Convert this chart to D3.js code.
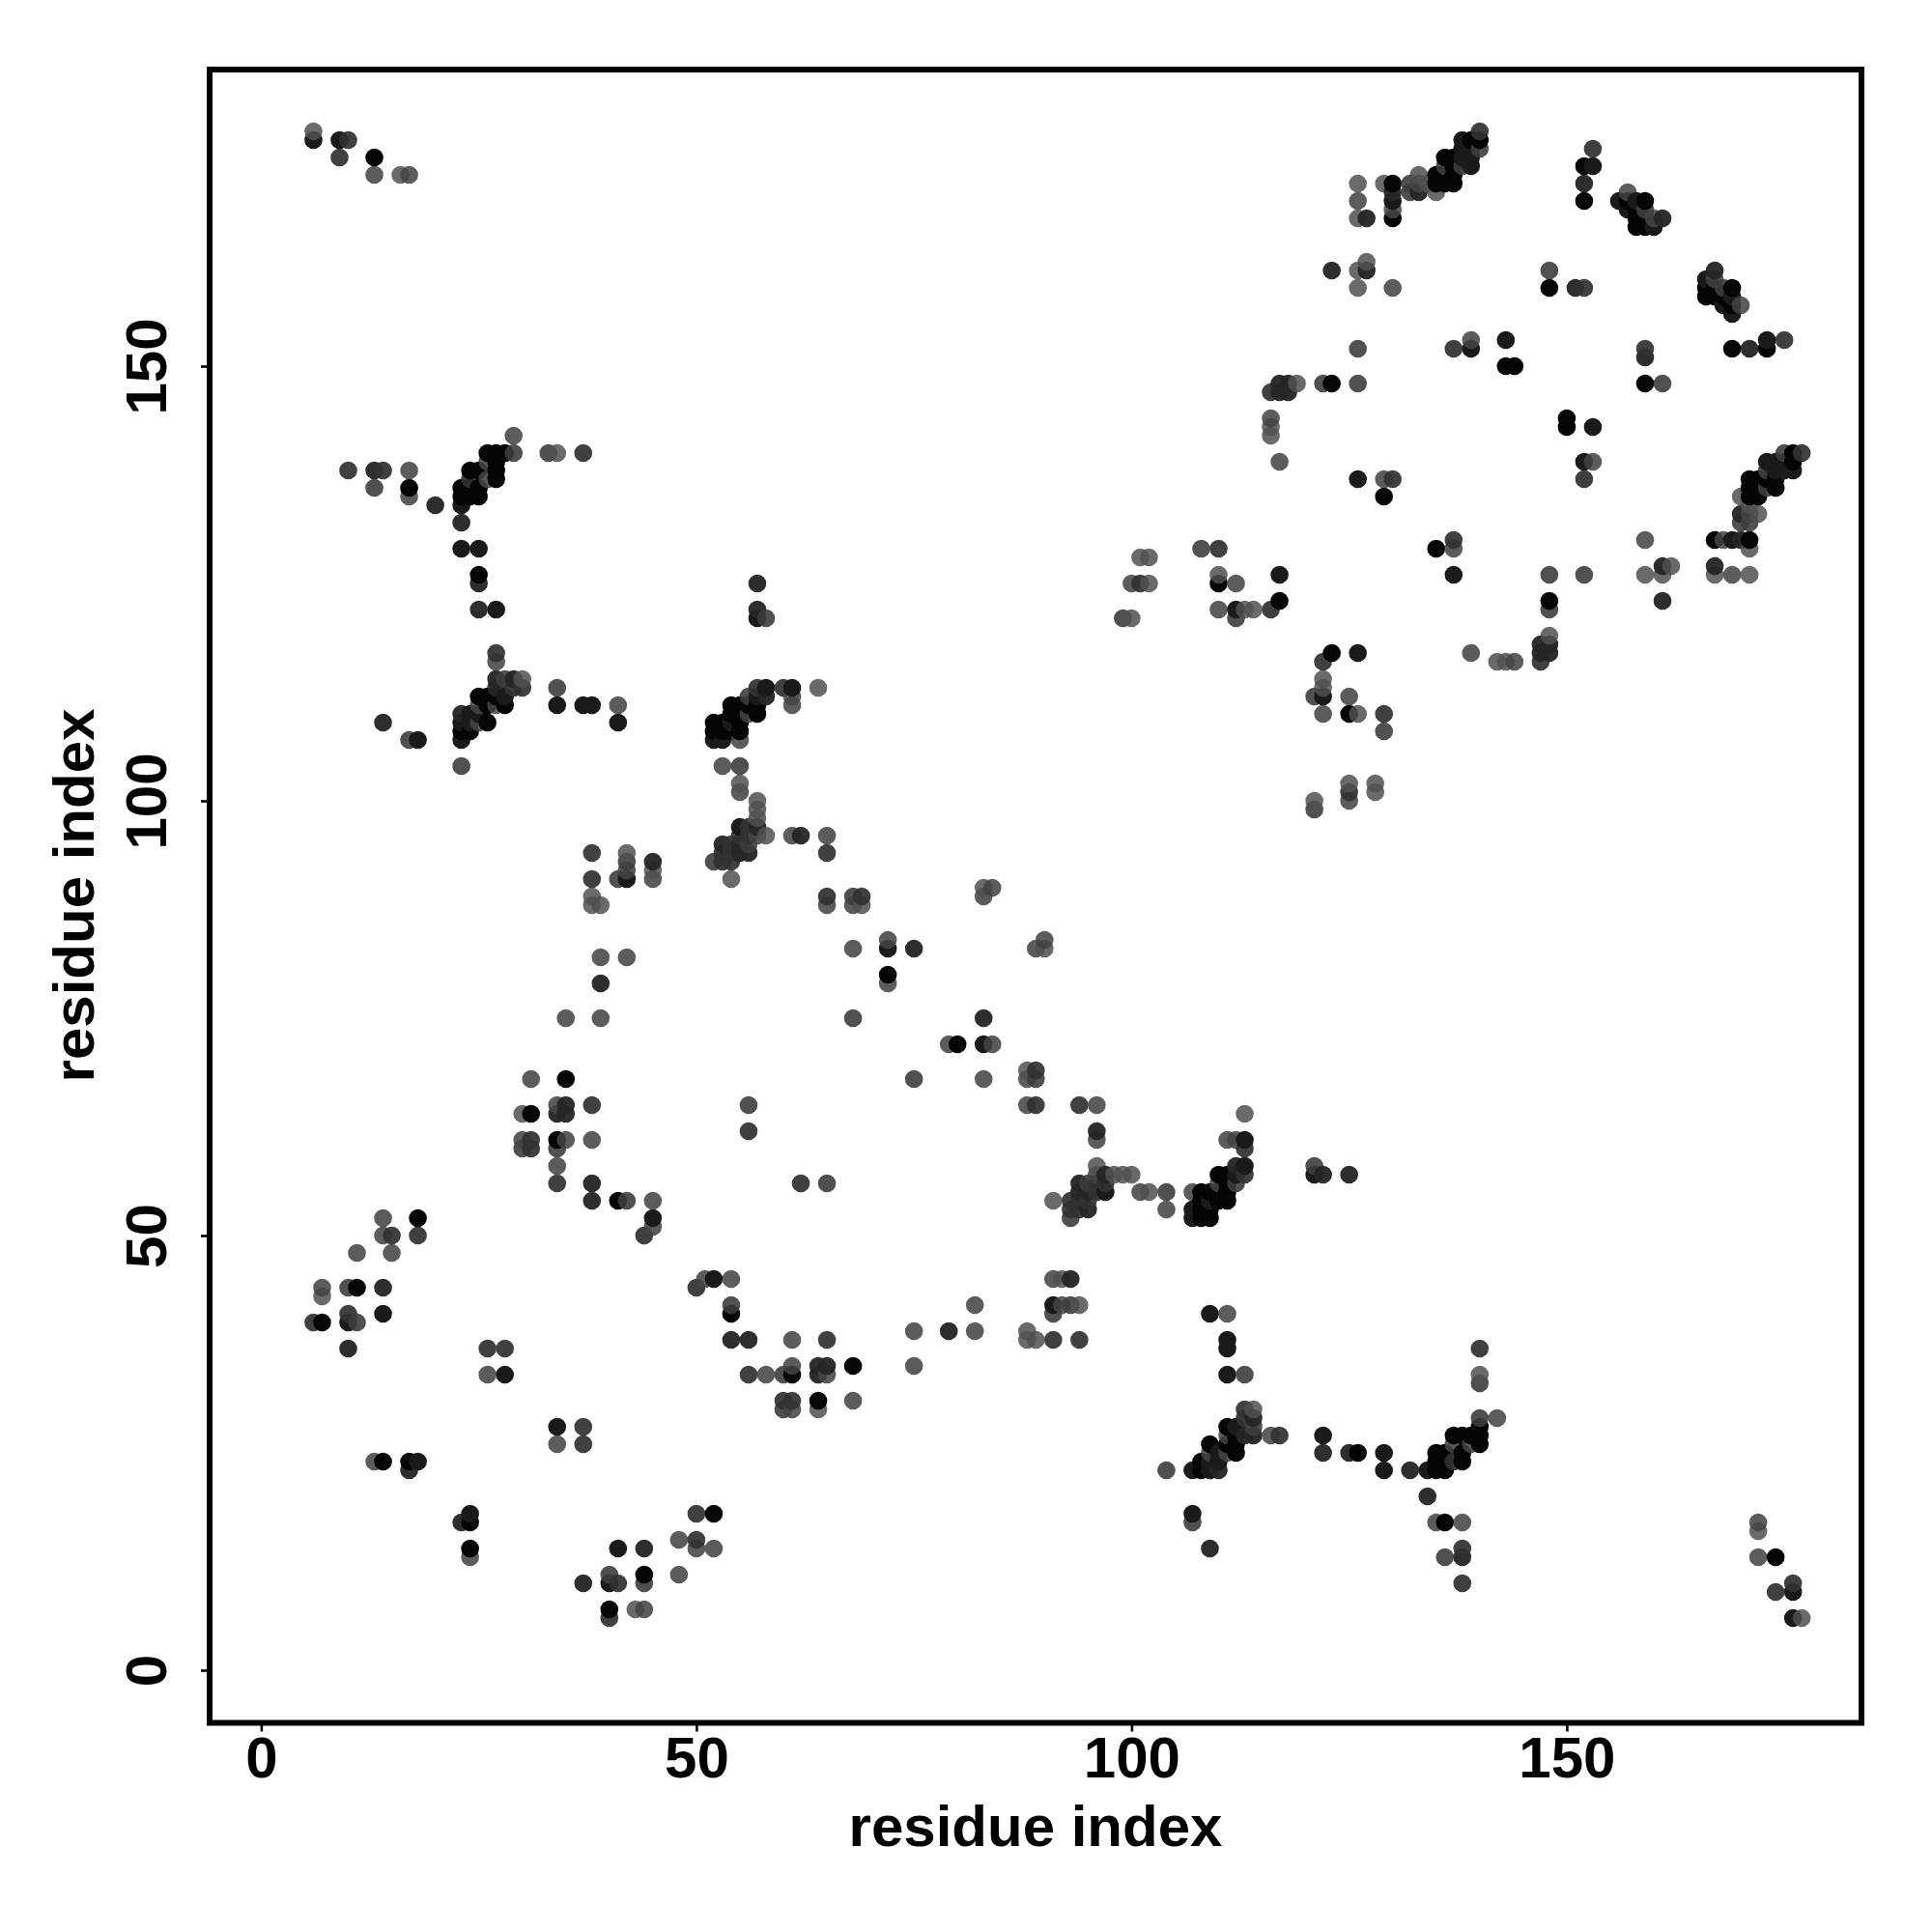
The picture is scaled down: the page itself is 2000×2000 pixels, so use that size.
<!DOCTYPE html>
<html><head><meta charset="utf-8">
<script src="https://cdnjs.cloudflare.com/ajax/libs/d3/7.8.5/d3.min.js"></script>
<style>html,body{margin:0;padding:0;background:#fff}svg{display:block}text{font-family:"Liberation Sans",Arial,sans-serif;font-weight:700;fill:#000}</style>
</head><body><div id="c"></div>
<script>
const xTicks=[0,50,100,150];
const yTicks=[0,50,100,150];
const axisTitle="residue index";
// tone: 0 darkest ... 6 lightest
const toneFill=["#050505","#1a1a1a","#252525","#323232","#3d3d3d","#444444","#505050"];
const toneOpacity=[1,1,.96,.93,.9,.87,.85];
// residue contacts [i, j, tone]; the map shows each pair at (i,j) and (j,i)
const contacts=[
[6,176,1],[6,177,6],[9,176,1],[10,176,3],[9,174,3],[13,174,0],[13,172,5],[16,172,6],[17,172,5],
[10,138,3],[13,138,2],[14,138,3],[17,138,5],[13,136,4],[17,136,0],[17,135,5],[20,134,2],[23,132,2],[23,129,1],[25,129,1],[25,126,0],[25,125,2],[25,122,2],[27,122,1],[33,140,4],[34,140,6],[37,140,3],
[23,134,1],[23,135,0],[23,136,0],[24,135,0],[24,136,0],[24,137,3],[24,138,0],[25,135,0],[25,136,0],[25,138,0],[26,137,5],[26,139,5],[26,140,0],[27,137,0],[27,138,0],[27,139,0],[27,140,0],[28,140,0],[29,140,4],[29,142,5],
[57,125,2],[57,122,2],[57,121,1],[58,121,4],
[27,117,3],[27,116,5],[23,104,4],[14,109,2],[17,107,4],[18,107,1],[34,113,4],[34,111,1],[37,111,1],[38,111,1],[41,111,5],[41,109,1],
[23,107,1],[23,108,0],[23,109,1],[23,110,2],[24,108,0],[24,109,1],[24,110,1],[25,109,5],[25,110,1],[25,111,5],[25,112,0],[26,109,0],[26,111,0],[26,112,0],[27,111,5],[27,112,0],[27,113,2],[27,114,2],[28,111,0],[28,112,1],[28,114,4],[29,113,3],[29,114,2],[30,113,3],[30,114,6],
[52,107,1],[52,108,0],[52,109,0],[53,107,1],[53,108,0],[53,109,0],[54,108,0],[54,109,1],[54,110,0],[54,111,0],[55,107,5],[55,108,0],[55,109,0],[55,110,0],[55,111,0],[56,110,5],[56,111,0],[56,112,4],[57,110,0],[57,111,0],[57,112,1],[57,113,3],[58,112,2],[58,113,1],[60,113,3],[61,113,1],[61,112,5],[61,111,5],[64,113,6],
[53,104,5],[55,104,4],[55,102,6],[55,101,5],[57,100,6],[57,99,6],[57,98,6],[57,97,2],[58,96,6],[61,96,5],[62,96,2],[65,96,5],[65,94,3],
[52,93,4],[53,93,3],[53,94,3],[53,95,2],[54,91,6],[54,93,3],[54,94,3],[54,95,3],[55,94,2],[55,95,2],[55,96,3],[55,97,1],[56,94,2],[56,95,4],[56,96,3],[56,97,3],[57,96,5],
[38,94,3],[38,91,3],[38,89,6],[38,88,6],[39,88,6],[42,94,6],[42,93,4],[42,92,5],[42,91,1],[41,91,4],[45,93,2],[45,92,6],[45,91,5],
[39,82,5],[42,82,5],[39,79,2],[35,75,5],[39,75,5],[31,68,5],[35,68,0],[30,64,6],[31,64,0],[34,64,2],[35,64,2],[34,65,5],[35,65,2],[38,65,3],[30,61,5],[30,60,4],[31,61,3],[31,60,3],[34,61,0],[34,60,4],[35,61,5],[38,61,5],[34,58,5],[34,56,3],[38,56,2],[38,54,2],[41,54,0],[42,54,4],[45,54,5],[45,52,1],[45,51,5],[44,50,3],[56,65,4],[56,62,3],
[14,52,5],[18,52,0],[14,50,5],[15,50,3],[18,50,3],[11,48,5],[15,48,5],[7,44,5],[7,43,6],[10,44,4],[11,44,0],[14,44,2],[6,40,3],[7,40,0],[10,41,3],[10,40,1],[11,40,4],[14,41,1],[10,37,2],[26,37,3],[28,37,3],[26,34,5],[28,34,1],
[13,24,5],[14,24,0],[17,24,0],[18,24,1],[17,23,2],
[65,89,3],[65,88,5],[68,89,4],[68,88,5],[69,89,3],[69,88,6],[68,83,5],[72,84,5],[72,83,1],[75,83,2],[72,80,0],[72,79,5],[68,75,4],[83,90,6],[84,90,5],[83,89,5],
[99,121,4],[100,121,6],[101,128,6],[102,128,6],[100,125,5],[101,125,3],[102,125,6],[108,129,4],[110,129,3],[110,126,6],[110,125,0],[112,125,5],[110,122,5],[112,122,1],[112,121,4],[113,122,6],[114,122,6],[116,122,3],[117,123,0],[117,126,1],
[129,135,0],[130,137,3],[129,137,5],[126,137,1],[126,148,4],[126,152,4],[123,148,0],[122,148,4],[119,148,6],[118,148,2],[118,147,2],[117,147,2],[117,148,2],[116,147,3],[117,139,5],[116,142,6],[116,143,6],[116,144,5],
[140,177,3],[140,176,0],[140,175,4],[139,176,0],[138,176,1],[139,175,1],[139,174,1],[139,173,1],[138,175,1],[138,174,1],[138,173,4],[137,174,0],[136,174,0],[137,173,0],[136,173,4],[137,172,0],[136,172,0],[135,172,0],[137,171,0],[136,171,0],[135,171,0],[134,171,6],[135,170,6],[133,172,6],[133,171,5],[133,170,2],[132,171,4],[132,170,4],[130,171,0],[130,170,2],[130,169,1],[130,168,5],[130,167,0],[129,171,6],[126,171,6],[126,169,5],[126,167,6],[127,167,2],
[123,161,2],[126,161,6],[127,162,6],[127,161,2],[126,159,6],[130,159,5],
[153,175,3],[152,173,0],[153,173,1],[152,171,2],[152,169,0],[156,169,1],[157,170,5],[157,169,0],[157,168,1],[158,169,1],[158,168,0],[158,167,0],[158,166,0],[159,169,0],[159,168,4],[159,167,0],[159,166,0],[160,167,5],[160,166,1],[161,167,2],
[148,161,4],[148,159,0],[151,159,2],[152,159,3],[137,152,3],[139,153,5],[139,152,1],[143,153,1],[143,150,0],[144,150,0]
];
const w=2000,h=2000;
const svg=d3.select("#c").append("svg").attr("width",w).attr("height",h);
svg.append("rect").attr("width",w).attr("height",h).attr("fill","#fff");
const box={l:217,r:1927,t:72,b:1783.5};
const x=d3.scaleLinear().domain([0,150]).range([270.4,1621.9]);
const y=d3.scaleLinear().domain([0,150]).range([1729,379]);
const pts=contacts.flatMap(([i,j,t])=>[{a:i,b:j,t},{a:j,b:i,t}]);
pts.sort((p,q)=>d3.ascending(p.a,q.a)||d3.ascending(p.b,q.b));
svg.append("g").selectAll("circle").data(pts).join("circle")
 .attr("cx",d=>x(d.a)).attr("cy",d=>y(d.b)).attr("r",9.3)
 .attr("fill",d=>toneFill[d.t]).attr("fill-opacity",d=>toneOpacity[d.t]);
svg.append("rect").attr("x",box.l).attr("y",box.t).attr("width",box.r-box.l).attr("height",box.b-box.t)
 .attr("fill","none").attr("stroke","#000").attr("stroke-width",6);
const ax=d3.axisBottom(x).tickValues(xTicks).tickSize(9).tickPadding(0).tickFormat(d3.format("d"));
const gx=svg.append("g").attr("transform",`translate(0,${box.b})`).call(ax);
gx.select(".domain").remove();
gx.selectAll("line").attr("stroke","#000").attr("stroke-width",2.6);
gx.selectAll("text").attr("dy",null).attr("y",56).attr("font-size",60).attr("text-anchor","middle");
const ay=d3.axisLeft(y).tickValues(yTicks).tickSize(9).tickFormat(d3.format("d"));
const gy=svg.append("g").attr("transform",`translate(${box.l},0)`).call(ay);
gy.select(".domain").remove();
gy.selectAll("line").attr("stroke","#000").attr("stroke-width",2.6);
gy.selectAll("text").attr("x",null).attr("dy",null).attr("font-size",60).attr("text-anchor","middle")
 .attr("transform","translate(-45,0) rotate(-90)");
svg.append("text").attr("x",1072).attr("y",1911).attr("text-anchor","middle").attr("font-size",60).text(axisTitle);
svg.append("text").attr("text-anchor","middle").attr("font-size",60).attr("transform","translate(97,927) rotate(-90)").text(axisTitle);
</script></body></html>
